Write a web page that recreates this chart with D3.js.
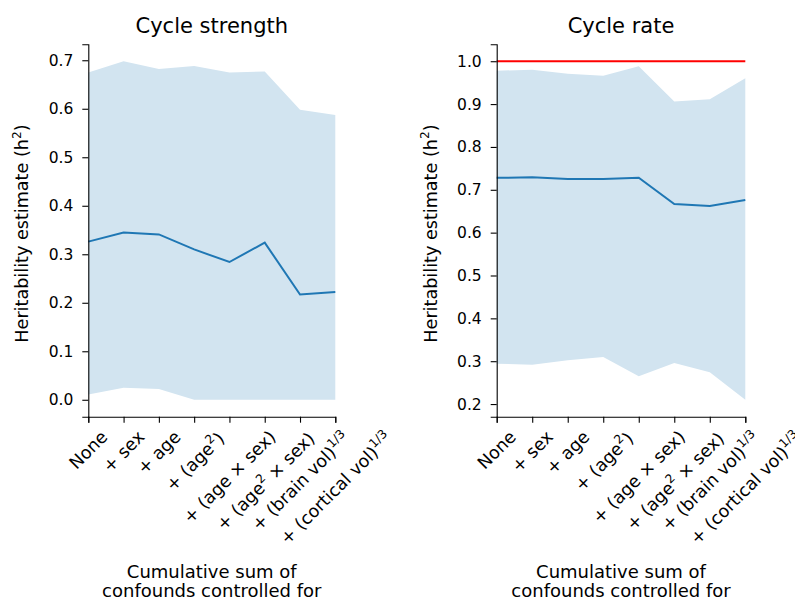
<!DOCTYPE html>
<html>
<head>
<meta charset="utf-8">
<script src="https://cdn.jsdelivr.net/npm/d3@7"></script>
<style>
  body { margin: 0; background: #fff; overflow: hidden; }
  svg { display: block; font-family: "DejaVu Sans", sans-serif; }
</style>
</head>
<body>
<svg id="chart" width="795" height="602"></svg>
<script>
// ---------------- data ----------------
const categories = ["None", "+ sex", "+ age", "+ (age^{2})", "+ (age × sex)",
  "+ (age^{2} × sex)", "+ (brain vol)^{1/3}", "+ (cortical vol)^{1/3}"];

const strengthMean  = [0.326, 0.345, 0.341, 0.310, 0.284, 0.324, 0.217, 0.222];
const strengthUpper = [0.675, 0.698, 0.682, 0.688, 0.675, 0.677, 0.598, 0.587];
const strengthLower = [0.011, 0.025, 0.022, 0.000, 0.000, 0.000, 0.000, 0.000];

const rateMean  = [0.728, 0.729, 0.725, 0.725, 0.728, 0.667, 0.662, 0.676];
const rateUpper = [0.978, 0.980, 0.971, 0.966, 0.988, 0.906, 0.911, 0.960];
const rateLower = [0.294, 0.292, 0.302, 0.310, 0.265, 0.296, 0.274, 0.210];
const rateRefLine = 1.0;

const strengthTicks = [0.0, 0.1, 0.2, 0.3, 0.4, 0.5, 0.6, 0.7];
const rateTicks = [0.2, 0.3, 0.4, 0.5, 0.6, 0.7, 0.8, 0.9, 1.0];

const titles = ["Cycle strength", "Cycle rate"];
const yLabel = "Heritability estimate (h^{2})";
const xLabelLines = ["Cumulative sum of", "confounds controlled for"];

// ---------------- drawing ----------------
const svg = d3.select("#chart");
const BLUE = "#1f77b4";
const FILL = "#d2e4f0";
const TICK_FS = 15.5, XTICK_FS = 17.5, LABEL_FS = 17.6, XLABEL_FS = 18, TITLE_FS = 21;

function parseSeg(str) {
  const segs = [];
  const re = /\^\{([^}]*)\}/g;
  let last = 0, m;
  while ((m = re.exec(str)) !== null) {
    if (m.index > last) segs.push({t: str.slice(last, m.index), sup: false});
    segs.push({t: m[1], sup: true});
    last = re.lastIndex;
  }
  if (last < str.length) segs.push({t: str.slice(last), sup: false});
  return segs;
}
function richText(textSel, str, fs) {
  const segs = parseSeg(str);
  let raised = false;
  segs.forEach(s => {
    const ts = textSel.append("tspan").text(s.t);
    if (s.sup) {
      ts.attr("font-size", fs * 0.7).attr("dy", -0.42 * fs);
      raised = true;
    } else if (raised) {
      ts.attr("dy", 0.42 * fs);
      raised = false;
    }
  });
}

function panel(opts) {
  const {x0, x1, yTop, yBot, mean, upper, lower, ticks, title, refLine} = opts;
  const g = svg.append("g");
  let lo = d3.min(lower), hi = d3.max(upper);
  if (refLine !== undefined) hi = Math.max(hi, refLine);
  const pad = (hi - lo) * 0.05;
  const x = d3.scaleLinear().domain([0, categories.length - 1]).range([x0, x1]);
  const y = d3.scaleLinear().domain([lo - pad, hi + pad]).range([yBot, yTop]);

  const idx = d3.range(categories.length);
  g.append("path")
    .attr("d", d3.area().x(i => x(i)).y0(i => y(lower[i])).y1(i => y(upper[i]))(idx))
    .attr("fill", FILL).attr("stroke", "none");
  g.append("path")
    .attr("d", d3.line().x(i => x(i)).y(i => y(mean[i]))(idx))
    .attr("fill", "none").attr("stroke", BLUE).attr("stroke-width", 2);
  if (refLine !== undefined) {
    g.append("line")
      .attr("x1", x(0)).attr("x2", x(categories.length - 1))
      .attr("y1", y(refLine)).attr("y2", y(refLine))
      .attr("stroke", "red").attr("stroke-width", 2.2);
  }

  // y axis
  const ya = g.append("g").attr("transform", `translate(${x0},0)`)
    .call(d3.axisLeft(y).tickValues(ticks).tickFormat(d3.format(".1f")).tickSizeOuter(0).tickSize(6).tickPadding(9));
  ya.select(".domain").attr("stroke", "#000").attr("stroke-width", 1.1);
  ya.selectAll(".tick line").attr("stroke", "#000").attr("stroke-width", 1.1);
  ya.selectAll(".tick text").attr("font-size", TICK_FS).attr("fill", "#000")
    .attr("font-family", "DejaVu Sans");

  // x axis
  const xa = g.append("g").attr("transform", `translate(0,${yBot})`)
    .call(d3.axisBottom(x).tickValues(idx).tickFormat("").tickSizeOuter(0).tickSize(6));
  xa.select(".domain").attr("stroke", "#000").attr("stroke-width", 1.1);
  xa.selectAll(".tick line").attr("stroke", "#000").attr("stroke-width", 1.1);

  // rotated category labels (centered bbox at tick, like matplotlib rotation=45)
  const topTarget = yBot + 10;
  categories.forEach((c, i) => {
    const lg = g.append("g");
    const t = lg.append("text").attr("transform", "rotate(-45)")
      .attr("font-size", XTICK_FS).attr("fill", "#000");
    richText(t, c, XTICK_FS);
    const r = t.node().getBoundingClientRect();
    const cx = (r.left + r.right) / 2;
    lg.attr("transform", `translate(${x(i) - cx},${topTarget - r.top})`);
  });

  // title
  g.append("text").attr("x", (x0 + x1) / 2).attr("y", 33)
    .attr("text-anchor", "middle").attr("font-size", TITLE_FS).attr("fill", "#000")
    .text(title);

  // y label
  const yl = g.append("text")
    .attr("transform", `translate(${x0 - 60},${(yTop + yBot) / 2 + 3}) rotate(-90)`)
    .attr("text-anchor", "middle").attr("font-size", LABEL_FS).attr("fill", "#000");
  richText(yl, yLabel, LABEL_FS);

  // x label
  xLabelLines.forEach((line, k) => {
    g.append("text").attr("x", (x0 + x1) / 2).attr("y", 578 + k * 19)
      .attr("text-anchor", "middle").attr("font-size", XLABEL_FS).attr("fill", "#000")
      .text(line);
  });
}

panel({x0: 88.3, x1: 335.3, yTop: 44.3, yBot: 416.7,
  mean: strengthMean, upper: strengthUpper, lower: strengthLower,
  ticks: strengthTicks, title: titles[0]});
panel({x0: 496.7, x1: 745.3, yTop: 44.3, yBot: 416.7,
  mean: rateMean, upper: rateUpper, lower: rateLower,
  ticks: rateTicks, title: titles[1], refLine: rateRefLine});
</script>
</body>
</html>
